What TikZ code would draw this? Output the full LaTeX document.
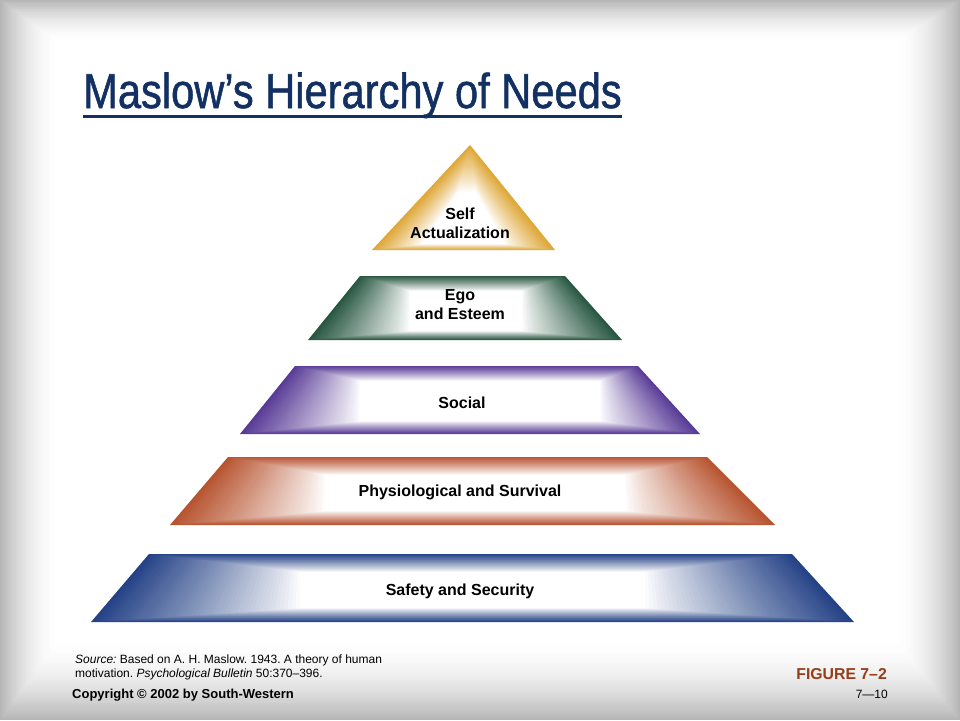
\documentclass[tikz,border=0pt]{standalone}
\usepackage{fontspec}
\setmainfont{Liberation Sans}
\usetikzlibrary{calc}
\frenchspacing

\definecolor{framec}{RGB}{182,182,182}
\definecolor{titlec}{RGB}{18,48,98}
\definecolor{goldc}{RGB}{222,166,52}
\definecolor{greenc}{RGB}{38,86,64}
\definecolor{purplec}{RGB}{88,58,150}
\definecolor{rustc}{RGB}{183,84,48}
\definecolor{bluec}{RGB}{36,66,134}
\definecolor{figc}{RGB}{150,60,25}

% bevel fill between outer (o1..o4) and inner (i1..i4) corners
\newcommand{\bevelfill}[3]{%
  \foreach \k in {0,...,#2}{
    \pgfmathsetmacro{\t}{\k/#2}
    \pgfmathtruncatemacro{\c}{100*(1-\t)^#3}
    \fill[#1!\c!white] ($(o1)!\t!(i1)$) -- ($(o2)!\t!(i2)$) -- ($(o3)!\t!(i3)$) -- ($(o4)!\t!(i4)$) -- cycle;
  }
}

\begin{document}
\begin{tikzpicture}[x=1pt, y=-1pt,
  level/.style = {font=\fontsize{16}{19}\selectfont\bfseries, align=center, inner sep=0},
  small/.style = {font=\fontsize{12}{14}\selectfont, align=left, inner sep=0}]

	\useasboundingbox (0,0) rectangle (960,720);

	% frame
	\coordinate (o1) at (0,0); \coordinate (o2) at (960,0);
	\coordinate (o3) at (960,720); \coordinate (o4) at (0,720);
	\coordinate (i1) at (62,45); \coordinate (i2) at (892,45);
	\coordinate (i3) at (892,636); \coordinate (i4) at (62,636);
	\bevelfill{framec}{40}{2}

	% title
	\node[anchor=base west, inner sep=0, text=titlec, font=\fontsize{49}{52}\selectfont\addfontfeature{FakeBold=1.2}] (title) at (83,108) {\scalebox{0.85}[1]{Maslow’s Hierarchy of Needs}};
	\draw[titlec, line width=3pt] ([yshift=-8pt]title.base west) -- ([yshift=-8pt]title.base east);

	% self actualization
	\coordinate (o1) at (470,145); \coordinate (o2) at (470,145);
	\coordinate (o3) at (555,250); \coordinate (o4) at (372,250);
	\coordinate (i1) at (458,192); \coordinate (i2) at (476,192);
	\coordinate (i3) at (505,244); \coordinate (i4) at (422,244);
	\bevelfill{goldc}{50}{0.9}

	% ego and esteem
	\coordinate (o1) at (360,276); \coordinate (o2) at (565,276);
	\coordinate (o3) at (622,340); \coordinate (o4) at (308,340);
	\coordinate (i1) at (410,291); \coordinate (i2) at (522,291);
	\coordinate (i3) at (522,331); \coordinate (i4) at (410,331);
	\bevelfill{greenc}{50}{0.9}

	% social
	\coordinate (o1) at (295,366); \coordinate (o2) at (638,366);
	\coordinate (o3) at (700,434); \coordinate (o4) at (240,434);
	\coordinate (i1) at (360,381); \coordinate (i2) at (600,381);
	\coordinate (i3) at (600,421); \coordinate (i4) at (360,421);
	\bevelfill{purplec}{50}{0.9}

	% physiological
	\coordinate (o1) at (228,457); \coordinate (o2) at (707,457);
	\coordinate (o3) at (775,525); \coordinate (o4) at (170,525);
	\coordinate (i1) at (325,475); \coordinate (i2) at (625,475);
	\coordinate (i3) at (625,511); \coordinate (i4) at (325,511);
	\bevelfill{rustc}{50}{0.9}

	% safety
	\coordinate (o1) at (149,554); \coordinate (o2) at (792,554);
	\coordinate (o3) at (854,622); \coordinate (o4) at (91,622);
	\coordinate (i1) at (300,572); \coordinate (i2) at (645,572);
	\coordinate (i3) at (645,608); \coordinate (i4) at (300,608);
	\bevelfill{bluec}{50}{0.9}

	% labels
	\node[level] (selfact) at (460,223) {Self\\Actualization};
	\node[level] (ego) at (460,305) {Ego\\and Esteem};
	\node[level] (social) at (462,403) {Social};
	\node[level] (phys) at (460,492) {Physiological and Survival};
	\node[level] (safety) at (460,591) {Safety and Security};

	% footer
	\node[small, anchor=north west] (source) at (75,655) {\textit{Source:} Based on A. H. Maslow. 1943. A theory of human\\motivation. \textit{Psychological Bulletin} 50:370–396.};
	\node[anchor=base west, inner sep=0, font=\fontsize{13}{15}\selectfont\bfseries] (copy) at (72,698) {Copyright © 2002 by South-Western};
	\node[anchor=base east, inner sep=0, text=figc, font=\fontsize{15.8}{18}\selectfont\bfseries] (fig) at (887,679) {FIGURE 7–2};
	\node[anchor=base east, inner sep=0, font=\fontsize{12}{14}\selectfont] (page) at (888,698) {7—10};
\end{tikzpicture}
\end{document}
